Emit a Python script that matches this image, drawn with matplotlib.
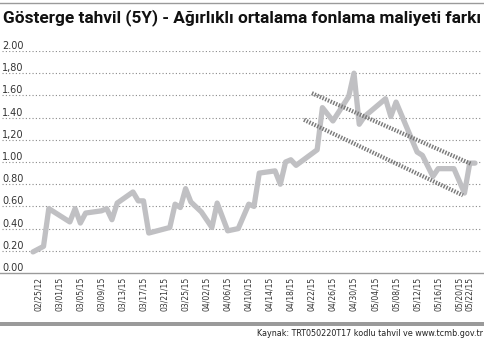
import matplotlib
matplotlib.use('Agg')
import matplotlib.pyplot as plt
from matplotlib.patches import Rectangle
from matplotlib.lines import Line2D
import matplotlib.transforms as mtransforms

# veri: çizginin köşe noktaları (gün indeksi, değer)
gun = [0, 2, 3, 7, 8, 9, 10, 13, 14, 15, 16, 19, 20, 21, 22, 26, 27, 28, 29, 30,
       32, 34, 35, 37, 39, 41, 42, 43, 46, 47, 48, 49, 50, 54, 55, 57, 60, 61, 62, 63,
       67, 68, 69, 73, 74, 76, 77, 80, 82, 83, 84]
fark = [0.19, 0.24, 0.58, 0.46, 0.58, 0.45, 0.54, 0.56, 0.58, 0.48, 0.63, 0.73, 0.65, 0.65, 0.36, 0.41, 0.62, 0.59, 0.76, 0.64,
        0.55, 0.41, 0.63, 0.38, 0.40, 0.62, 0.60, 0.90, 0.92, 0.80, 1.00, 1.02, 0.97, 1.11, 1.49, 1.37, 1.59, 1.80, 1.34, 1.41,
        1.57, 1.41, 1.54, 1.09, 1.06, 0.87, 0.94, 0.94, 0.72, 0.99, 0.99]

# trend kanalı
ust_x = [53, 83.4]
ust_y = [1.62, 0.98]
alt_x = [51.5, 81.7]
alt_y = [1.38, 0.70]

etiket_pos = [1, 5, 9, 13, 17, 21, 25, 29, 33, 37, 41, 45, 49, 53, 57, 61, 65, 69, 73, 77, 81, 83]
etiketler = ['02/25/12', '03/01/15', '03/05/15', '03/09/15', '03/13/15', '03/17/15', '03/21/15', '03/25/15',
             '04/02/15', '04/06/15', '04/10/15', '04/14/15', '04/18/15', '04/22/15', '04/26/15', '04/30/15',
             '05/04/15', '05/08/15', '05/12/15', '05/16/15', '05/20/15', '05/22/15']

y_degerler = [0.0, 0.2, 0.4, 0.6, 0.8, 1.0, 1.2, 1.4, 1.6, 1.8, 2.0]
y_etiketler = ['0.00', '0.20', '0.40', '0.60', '0.80', '1.00', '1,20', '1.40', '1.60', '1,80', '2.00']

W, H = 484, 342
fig = plt.figure(figsize=(W / 100, H / 100), dpi=100)
ax = fig.add_axes([0, (H - 273) / H, 1, 222 / H])

px = 5.262
ax.set_xlim(-33 / px, 84 + 9 / px)
ax.set_ylim(0, 2.0)

for v in y_degerler[1:]:
    ax.axhline(v, xmin=0.004, xmax=0.995, color='#8a8a8a', lw=0.8, ls=(0, (1, 2)), zorder=1)

ax.plot(gun, fark, color='#c0c0c3', lw=3.8, solid_joinstyle='round', solid_capstyle='round',
        zorder=3, clip_on=False)
ax.plot(ust_x, ust_y, color='#7a7a7a', lw=3.0, ls=(0, (0.35, 0.35)), zorder=4)
ax.plot(alt_x, alt_y, color='#7a7a7a', lw=3.0, ls=(0, (0.35, 0.35)), zorder=4)

for sp in ['top', 'right', 'left']:
    ax.spines[sp].set_visible(False)
ax.spines['bottom'].set_color('#9a9a9a')
ax.spines['bottom'].set_linewidth(1.0)

ax.set_yticks([])
ofs = mtransforms.offset_copy(ax.get_yaxis_transform(), fig=fig, x=0, y=1.5, units='points')
for v, t in zip(y_degerler, y_etiketler):
    ax.text(0.004, v, t, transform=ofs, fontsize=7, color='#333333', ha='left', va='baseline')

ax.set_xticks(etiket_pos)
ax.set_xticklabels(etiketler, rotation=90, fontsize=5.5, color='#333333')
ax.tick_params(axis='x', length=0, pad=2.7)

# başlık
fig.add_artist(Line2D([0, 1], [1 - 2.5 / H, 1 - 2.5 / H], color='#9a9a9a', lw=1.0))
baslik = fig.text(3 / W, 1 - 22 / H, 'Gösterge tahvil (5Y) - Ağırlıklı ortalama fonlama maliyeti farkı',
                  fontsize=11, fontweight='bold', family=['Liberation Sans Narrow', 'Roboto', 'DejaVu Sans'],
                  ha='left', va='baseline', color='#111111')
r = fig.canvas.get_renderer()
gen = baslik.get_window_extent(r).width
baslik.set_fontsize(11 * 480 / gen)

fig.add_artist(Rectangle((0, (H - 325.5) / H), 1, 3.5 / H, transform=fig.transFigure,
                         color='#9a9a9a', lw=0))
kaynak = fig.text(483 / W, 1 - 333 / H, 'Kaynak: TRT050220T17 kodlu tahvil ve www.tcmb.gov.tr',
                  fontsize=6, ha='right', va='center', color='#222222')
gen = kaynak.get_window_extent(r).width
kaynak.set_fontsize(6 * 226 / gen)

fig.savefig('out.png', dpi=100)
